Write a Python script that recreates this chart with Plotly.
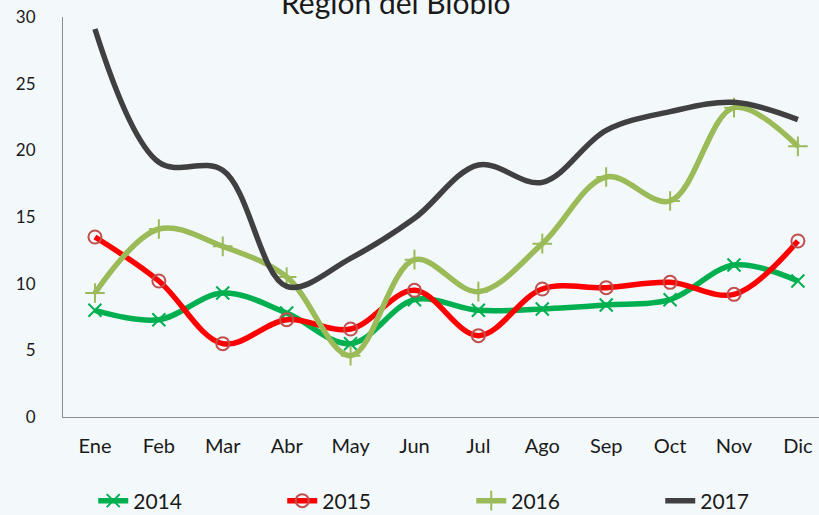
import plotly.graph_objects as go

months = ["Ene", "Feb", "Mar", "Abr", "May", "Jun", "Jul", "Ago", "Sep", "Oct", "Nov", "Dic"]
s2014 = [8.0, 7.3, 9.3, 7.8, 5.5, 8.8, 8.0, 8.1, 8.4, 8.8, 11.4, 10.2]
s2015 = [13.5, 10.2, 5.5, 7.3, 6.6, 9.5, 6.1, 9.6, 9.7, 10.1, 9.2, 13.2]
s2016 = [9.3, 14.1, 12.8, 10.5, 4.6, 11.8, 9.4, 13.0, 18.0, 16.2, 23.2, 20.3]
s2017 = [29.1, 19.1, 18.5, 9.8, 11.9, 14.9, 18.9, 17.6, 21.5, 22.9, 23.6, 22.3]
y_ticks = [0, 5, 10, 15, 20, 25, 30]
title_text = "Región del Biobío"

font_family = "Lato, Open Sans, sans-serif"
bg = "#f3f8fb"

fig = go.Figure()

series = [
    ("2014", s2014, "#00b050", dict(symbol="x-thin-open", size=13, color="#00b050", line=dict(width=2, color="#00b050"))),
    ("2015", s2015, "#ff0000", dict(symbol="circle-open", size=13, color="#c0504d", line=dict(width=2, color="#c0504d"))),
    ("2016", s2016, "#9bbb59", dict(symbol="cross-thin-open", size=14, color="#9bbb59", line=dict(width=2, color="#9bbb59"))),
    ("2017", s2017, "#404040", None),
]

for name, vals, color, marker in series:
    kw = dict(
        x=months, y=vals, name=name,
        line=dict(color=color, width=5.5, shape="spline", smoothing=1.0),
    )
    if marker is not None:
        kw["mode"] = "lines+markers"
        kw["marker"] = marker
    else:
        kw["mode"] = "lines"
    fig.add_trace(go.Scatter(**kw))

fig.update_layout(
    width=819, height=515,
    margin=dict(l=63, r=0, t=17, b=98, autoexpand=False),
    paper_bgcolor=bg,
    plot_bgcolor="rgba(0,0,0,0)",
    font=dict(family=font_family, color="#1a1a1a"),
    showlegend=True,
    legend=dict(
        orientation="h",
        x=0.04, xanchor="left",
        y=-0.21, yanchor="middle",
        font=dict(size=21, color="#1a1a1a"),
        entrywidth=144, entrywidthmode="pixels",
        bgcolor="rgba(0,0,0,0)",
    ),
    annotations=[
        dict(
            text=title_text, x=0.44, xref="paper", y=1.0375, yref="paper",
            xanchor="center", yanchor="middle", showarrow=False,
            font=dict(size=30, color="#1a1a1a", family=font_family),
        )
    ],
)

fig.update_xaxes(
    type="category",
    range=[-0.5, 11.33],
    showgrid=False,
    showline=True, linecolor="#8c8c8c", linewidth=1,
    ticks="", tickfont=dict(size=20),
    ticklabelstandoff=11,
    zeroline=False,
    automargin=False,
)
fig.update_yaxes(
    range=[0, 30],
    tickvals=y_ticks,
    showgrid=False,
    showline=True, linecolor="#8c8c8c", linewidth=1,
    ticks="", tickfont=dict(size=17),
    ticklabelstandoff=23,
    zeroline=False,
    automargin=False,
)

fig.write_html(
    "out.html",
    config={"displayModeBar": False},
    post_script="document.body.style.margin='0';document.body.style.padding='0';document.body.style.background='" + bg + "';",
)
